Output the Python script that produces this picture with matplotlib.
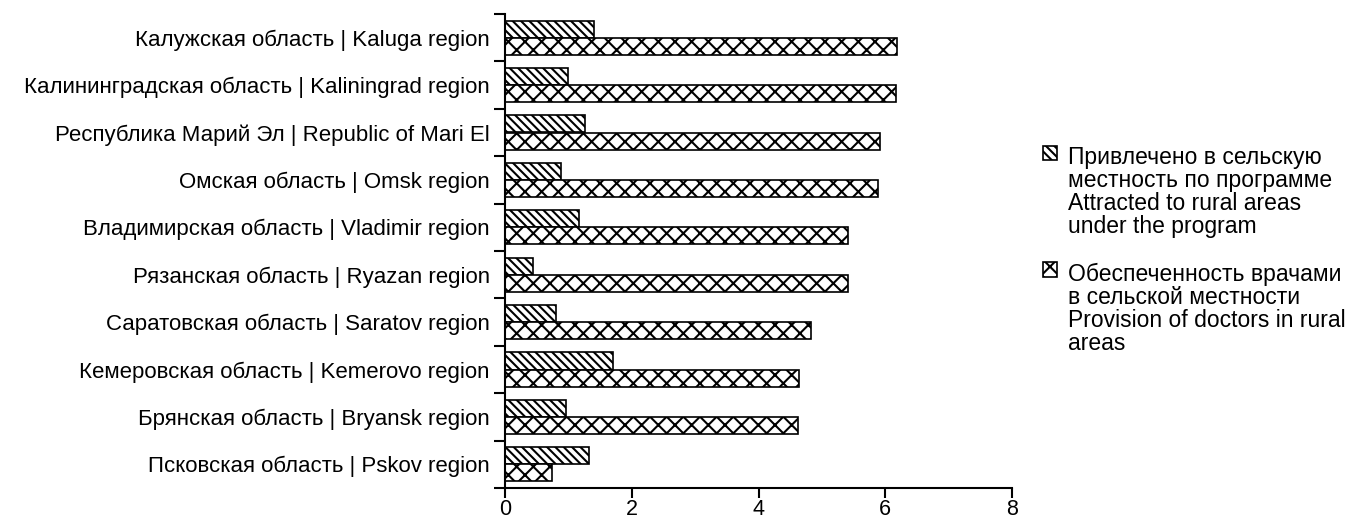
import matplotlib
matplotlib.use("Agg")
import matplotlib.pyplot as plt
import numpy as np

plt.rcParams['font.family'] = ['Liberation Sans', 'DejaVu Sans']
plt.rcParams['hatch.linewidth'] = 1.5

regions = [
    "Калужская область | Kaluga region",
    "Калининградская область | Kaliningrad region",
    "Республика Марий Эл | Republic of Mari El",
    "Омская область | Omsk region",
    "Владимирская область | Vladimir region",
    "Рязанская область | Ryazan region",
    "Саратовская область | Saratov region",
    "Кемеровская область | Kemerovo region",
    "Брянская область | Bryansk region",
    "Псковская область | Pskov region",
]
attracted = [1.41, 1.00, 1.26, 0.88, 1.16, 0.44, 0.80, 1.71, 0.97, 1.32]
provision = [6.19, 6.17, 5.92, 5.88, 5.42, 5.41, 4.83, 4.64, 4.62, 0.74]
x_ticks = [0, 2, 4, 6, 8]

label_attr = "Привлечено в сельскую\nместность по программе\nAttracted to rural areas\nunder the program"
label_prov = "Обеспеченность врачами\nв сельской местности\nProvision of doctors in rural\nareas"

fig = plt.figure(figsize=(13.58, 5.16), dpi=100)
ax = fig.add_axes([505/1358, 28/516, (1012-505)/1358, (488-14)/516])

n = len(regions)
pos = np.arange(n)[::-1]  # top category first
h = 0.36
ax.barh(pos + h/2, attracted, height=h, color='white', edgecolor='black',
        hatch='\\\\\\\\', linewidth=1.2, label=label_attr)
ax.barh(pos - h/2, provision, height=h, color='white', edgecolor='black',
        hatch='xx', linewidth=1.2, label=label_prov)

ax.set_xlim(0, 8)
ax.set_ylim(-0.5, n - 0.5)
ax.set_xticks(x_ticks)
ax.set_xticklabels([str(t) for t in x_ticks], fontsize=15.5)
ax.set_yticks(np.arange(n + 1) - 0.5)
ax.set_yticklabels([])
ax.set_yticks(pos, minor=True)
ax.set_yticklabels(regions, minor=True, fontsize=16)
ax.tick_params(axis='y', which='minor', length=0, pad=11)
ax.tick_params(axis='y', which='major', length=8, width=1.5, direction='out')
ax.tick_params(axis='x', length=7, width=1.5, direction='out', pad=1)
for s in ['top', 'right']:
    ax.spines[s].set_visible(False)
for s in ['left', 'bottom']:
    ax.spines[s].set_linewidth(1.5)

leg = fig.legend(loc='upper left', bbox_to_anchor=(1022/1358, 1 - 125/516), frameon=False,
                 fontsize=16.5, handlelength=0.62, handleheight=0.62, handletextpad=0.5,
                 labelspacing=1.08)
for t in leg.get_texts():
    t.set_linespacing(1.0)
try:
    for col in leg._legend_handle_box.get_children():
        for hp in col.get_children():
            hp.align = "top"
except Exception:
    pass

fig.savefig("out.png", dpi=100)
